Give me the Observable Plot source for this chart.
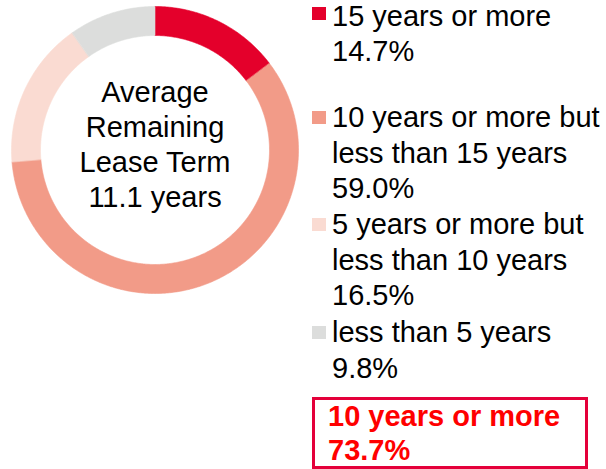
<!DOCTYPE html>
<html>
<head>
<meta charset="utf-8">
<script src="https://cdn.jsdelivr.net/npm/d3@7"></script>
<script src="https://cdn.jsdelivr.net/npm/@observablehq/plot@0.6"></script>
<style>
  html, body { margin: 0; padding: 0; background: #fff; }
  #wrap { position: relative; width: 606px; height: 469px; overflow: hidden;
          font-family: "Liberation Sans", Arial, sans-serif; color: #000; }
  #chart { position: absolute; left: 0; top: 0; }
  .item { position: absolute; left: 332px; font-size: 29px; line-height: 35.5px; white-space: nowrap; }
  .sw { position: absolute; left: 312px; width: 14px; height: 13px; }
  #box { position: absolute; left: 312px; top: 397px; width: 276px; height: 72px;
         box-sizing: border-box; border: 3px solid #E4003A; }
  #boxtext { position: absolute; left: 328px; top: 398.5px; font-size: 29px; line-height: 34.5px;
             font-weight: bold; color: #FF0000; white-space: nowrap; }
</style>
</head>
<body>
<div id="wrap">
  <div id="chart"></div>
</div>
<script>
// ---- data ----
const categories = ["15 years or more", "10 years or more but less than 15 years", "5 years or more but less than 10 years", "less than 5 years"];
const legendLines = [["15 years or more"], ["10 years or more but", "less than 15 years"], ["5 years or more but", "less than 10 years"], ["less than 5 years"]];
const shares = [14.7, 59.0, 16.5, 9.8];
const colors = ["#E4002B", "#F29B88", "#FADBD2", "#DCDDDC"];
const centerLines = ["Average", "Remaining", "Lease Term", "11.1 years"];
const highlightLabel = "10 years or more";
const highlightShare = 73.7;

// ---- ring geometry (derived from shares) ----
const outerR = 1, innerR = 114.5 / 143.5;
const total = d3.sum(shares);
const pts = [];
let acc = 0;
categories.forEach((c, i) => {
  const a0 = acc / total * 2 * Math.PI;
  acc += shares[i];
  const a1 = acc / total * 2 * Math.PI;
  const n = Math.max(8, Math.ceil((a1 - a0) / 0.01));
  for (let k = 0; k <= n; k++) { const a = a0 + (a1 - a0) * k / n; pts.push({cat: c, x: outerR * Math.sin(a), y: outerR * Math.cos(a)}); }
  for (let k = n; k >= 0; k--) { const a = a0 + (a1 - a0) * k / n; pts.push({cat: c, x: innerR * Math.sin(a), y: innerR * Math.cos(a)}); }
});

const chart = Plot.plot({
  width: 310,
  height: 300,
  margin: 0,
  x: {domain: [-1, 1], range: [11, 298], axis: null},
  y: {domain: [-1, 1], range: [293, 6], axis: null},
  color: {domain: categories, range: colors},
  style: {fontFamily: '"Liberation Sans", Arial, sans-serif', background: "transparent"},
  marks: [
    Plot.line(pts, {x: "x", y: "y", z: "cat", fill: "cat", stroke: "cat", strokeWidth: 0.6, curve: "linear-closed"}),
    Plot.text([centerLines.join("\n")], {
      x: () => 0, y: () => 0, text: d => d, fontSize: 29, lineHeight: 35 / 29,
      fill: "#000", dy: -7, textAnchor: "middle"
    })
  ]
});
document.getElementById("chart").appendChild(chart);

// ---- legend (HTML) ----
const wrap = document.getElementById("wrap");
const baselines = [26.5, 128, 235, 343];
const swatchTops = [7, 111, 218, 326];
categories.forEach((c, i) => {
  const sw = document.createElement("div");
  sw.className = "sw";
  sw.style.top = swatchTops[i] + "px";
  sw.style.background = colors[i];
  wrap.appendChild(sw);
  const it = document.createElement("div");
  it.className = "item";
  it.style.top = (baselines[i] - 27.8) + "px";
  it.innerHTML = legendLines[i].concat([shares[i].toFixed(1) + "%"]).map(s => `<div>${s}</div>`).join("");
  wrap.appendChild(it);
});
const box = document.createElement("div");
box.id = "box";
wrap.appendChild(box);
const bt = document.createElement("div");
bt.id = "boxtext";
bt.innerHTML = `<div>${highlightLabel}</div><div>${highlightShare.toFixed(1)}%</div>`;
wrap.appendChild(bt);
</script>
</body>
</html>
